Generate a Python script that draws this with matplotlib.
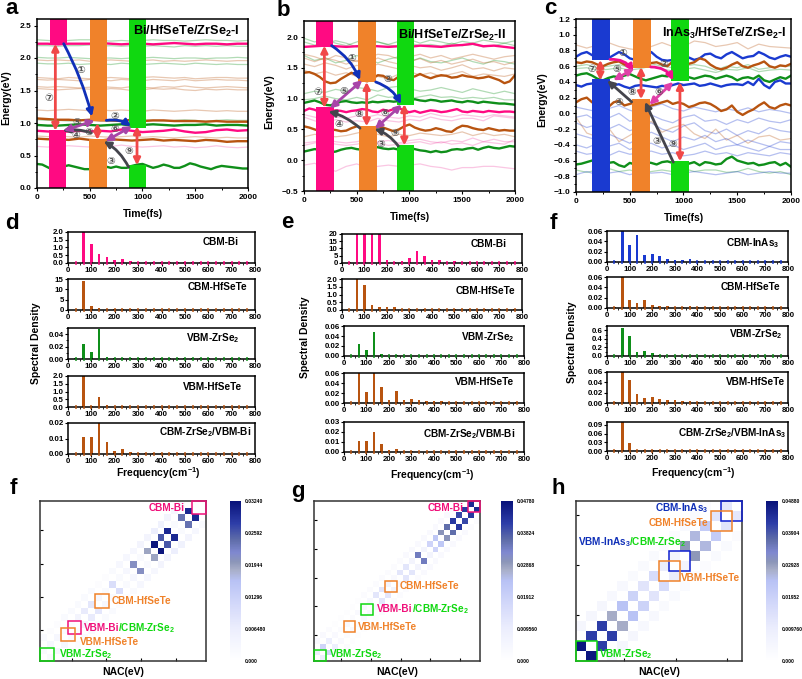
import numpy as np
import matplotlib
matplotlib.use("Agg")
import matplotlib.pyplot as plt
from matplotlib.colors import LinearSegmentedColormap
from matplotlib.patches import Rectangle

plt.rcParams['font.family'] = ['Liberation Sans', 'DejaVu Sans']
plt.rcParams['font.weight'] = 'bold'
plt.rcParams['mathtext.default'] = 'regular'
plt.rcParams['axes.linewidth'] = 1.1

W, H = 803, 679
PINK, BROWN, GREEN = '#FF0A82', '#B85410', '#0F8F1A'
BLUE = '#1A3AD0'
ORANGE = '#F0822A'
BGREEN = '#10D810'
RED = '#F04848'
DBLUE = '#1030B8'
GREY = '#44444C'
PURP = '#A845A8'

# ---------------- panel a series ----------------
a_pink_hi = [2.22, 2.22, 2.21, 2.22, 2.22, 2.22, 2.23, 2.22, 2.21, 2.22, 2.22, 2.21, 2.22, 2.23, 2.22, 2.21, 2.22, 2.22, 2.21, 2.22, 2.22]
a_brown_hi = [1.07, 1.06, 1.05, 1.05, 1.04, 1.05, 1.04, 1.04, 1.03, 1.05, 1.03, 1.04, 1.04, 1.03, 1.03, 1.03, 1.02, 1.03, 1.02, 1.02, 1.02]
a_green_mid = [.97, .96, .96, .97, .98, .97, .96, .97, .98, .96, .97, .98, .97, .96, .97, .97, .98, .96, .97, .97, .96]
a_pink_lo = [.88, .87, .86, .87, .88, .87, .88, .87, .90, .88, .86, .87, .88, .90, .87, .85, .86, .89, .90, .88, .89]
a_brown_lo = [.76, .75, .75, .74, .76, .74, .73, .75, .74, .73, .74, .75, .73, .74, .73, .72, .74, .73, .71, .72, .72]
a_green_lo = [.37, .36, .32, .28, .34, .33, .35, .33, .31, .29, .29, .32, .34, .33, .31, .33, .31, .31, .34, .36, .37, .34, .31, .33, .36, .34, .31, .31, .34, .38, .36, .33, .31, .29, .32, .34, .33, .32, .31, .30, .30]
a_thin_green = [
    [2.28, 2.27, 2.26, 2.27, 2.28, 2.28, 2.27, 2.26, 2.27, 2.26, 2.27, 2.28, 2.27, 2.27, 2.26, 2.27, 2.28, 2.27, 2.27, 2.26, 2.27],
    [2.19, 2.19, 2.18, 2.19, 2.19, 2.20, 2.18, 2.19, 2.18, 2.19, 2.18, 2.19, 2.18, 2.17, 2.19, 2.18, 2.19, 2.18, 2.19, 2.18, 2.18],
    [2.01, 2.00, 2.00, 2.01, 2.00, 1.99, 2.00, 2.00, 1.99, 2.00, 2.00, 2.01, 2.00, 1.99, 2.00, 2.00, 1.99, 2.00, 2.00, 2.01, 2.00],
    [1.92, 1.91, 1.91, 1.92, 1.90, 1.91, 1.91, 1.90, 1.92, 1.91, 1.90, 1.91, 1.92, 1.91, 1.90, 1.92, 1.91, 1.90, 1.91, 1.90, 1.90],
    [1.05, 1.04, 1.04, 1.03, 1.04, 1.04, 1.05, 1.03, 1.04, 1.04, 1.05, 1.04, 1.03, 1.04, 1.05, 1.04, 1.03, 1.04, 1.05, 1.04, 1.04],
]
a_thin_brown = [
    [1.97, 1.96, 1.97, 1.96, 1.97, 1.95, 1.96, 1.97, 1.96, 1.95, 1.96, 1.97, 1.95, 1.96, 1.95, 1.96, 1.97, 1.96, 1.95, 1.96, 1.96],
    [1.70, 1.69, 1.68, 1.70, 1.69, 1.68, 1.69, 1.70, 1.69, 1.68, 1.70, 1.71, 1.70, 1.69, 1.70, 1.68, 1.69, 1.70, 1.70, 1.69, 1.69],
    [1.67, 1.66, 1.67, 1.66, 1.65, 1.67, 1.66, 1.65, 1.67, 1.66, 1.65, 1.67, 1.66, 1.65, 1.67, 1.65, 1.66, 1.67, 1.66, 1.66, 1.65],
    [1.56, 1.55, 1.56, 1.55, 1.54, 1.55, 1.56, 1.55, 1.54, 1.56, 1.55, 1.54, 1.56, 1.55, 1.57, 1.55, 1.54, 1.55, 1.56, 1.55, 1.54],
    [1.53, 1.52, 1.51, 1.52, 1.53, 1.52, 1.51, 1.53, 1.52, 1.50, 1.51, 1.53, 1.52, 1.53, 1.51, 1.50, 1.52, 1.51, 1.52, 1.51, 1.51],
    [1.20, 1.19, 1.20, 1.21, 1.20, 1.19, 1.20, 1.19, 1.20, 1.19, 1.18, 1.20, 1.19, 1.18, 1.19, 1.20, 1.19, 1.18, 1.19, 1.18, 1.18],
    [.80, .79, .80, .79, .78, .80, .79, .78, .79, .80, .78, .79, .78, .77, .78, .79, .78, .77, .78, .77, .77],
]
a_thin_pink = [[.64, .63, .64, .65, .64, .63, .65, .64, .66, .64, .63, .64, .65, .63, .64, .62, .63, .65, .63, .62, .63]]

# ---------------- panel b series ----------------
b_pink_hi = [1.84, 1.85, 1.86, 1.85, 1.84, 1.85, 1.86, 1.85, 1.84, 1.85, 1.84, 1.86, 1.85, 1.84, 1.86, 1.87, 1.89, 1.85, 1.86, 1.84, 1.82]
b_brown_hi = [1.42, 1.43, 1.40, 1.35, 1.28, 1.25, 1.26, 1.32, 1.37, 1.42, 1.38, 1.30, 1.28, 1.33, 1.38, 1.37, 1.32, 1.30, 1.36, 1.38, 1.35, 1.36, 1.40, 1.36, 1.33, 1.36, 1.38, 1.37, 1.34, 1.35, 1.38, 1.36, 1.35, 1.33, 1.34, 1.36, 1.33, 1.30, 1.25, 1.28, 1.38]
b_green_mid = [.93, .95, .97, .94, .90, .89, .92, .95, .96, .94, .93, .94, .93, .95, .94, .95, .96, .95, .96, .98, .97, .99, .97, .96, .98, .97, .95, .96, .97, .95, .94, .96, .95, .93, .95, .94, .93, .92, .92, .91, .90]
b_pink_mid = [.80, .84, .82, .78, .76, .79, .81, .80, .78, .80, .81, .83, .82, .79, .78, .82, .80, .83, .85, .80, .78, .80, .77, .79, .81, .80, .78, .79, .81, .83, .79, .78, .80, .79, .78, .80, .79, .78, .79, .79, .78]
b_brown_lo = [.55, .53, .50, .47, .47, .50, .49, .47, .48, .52, .55, .53, .50, .52, .55, .53, .50, .47, .50, .55, .58, .53, .50, .48, .49, .52, .50, .47, .46, .52, .56, .55, .52, .50, .49, .52, .50, .48, .49, .48, .48]
b_green_lo = [.14, .16, .18, .17, .14, .13, .14, .17, .19, .20, .18, .17, .20, .22, .21, .19, .18, .19, .17, .18, .20, .18, .16, .15, .13, .15, .13, .14, .17, .18, .17, .19, .20, .17, .20, .22, .20, .19, .21, .23, .22]
b_thin_green = [
    [1.98, 1.92, 1.96, 1.90, 1.86, 1.92, 1.98, 1.92, 1.88, 1.93, 1.96, 1.90, 1.95, 1.92, 1.88, 1.93, 1.90, 1.95, 1.92, 1.90, 1.94],
    [1.92, 1.87, 1.90, 1.94, 1.90, 1.84, 1.88, 1.92, 1.87, 1.85, 1.90, 1.86, 1.88, 1.85, 1.90, 1.86, 1.88, 1.84, 1.86, 1.90, 1.86],
    [1.70, 1.62, 1.66, 1.58, 1.62, 1.70, 1.64, 1.58, 1.64, 1.68, 1.60, 1.66, 1.60, 1.58, 1.62, 1.66, 1.60, 1.56, 1.62, 1.60, 1.56],
    [1.08, 1.12, 1.10, 1.15, 1.12, 1.18, 1.16, 1.12, 1.18, 1.20, 1.16, 1.12, 1.14, 1.18, 1.14, 1.10, 1.16, 1.12, 1.08, 1.12, 1.08],
    [.98, 1.00, 1.04, 1.00, .98, 1.02, .98, 1.06, 1.02, 1.04, 1.00, 1.03, 1.06, 1.02, 1.03, 1.00, 1.02, 1.00, 1.02, .98, .98],
]
b_thin_brown = [
    [1.72, 1.68, 1.62, 1.70, 1.66, 1.60, 1.66, 1.72, 1.70, 1.64, 1.68, 1.72, 1.66, 1.70, 1.64, 1.68, 1.72, 1.68, 1.64, 1.68, 1.70],
    [1.66, 1.60, 1.66, 1.62, 1.56, 1.62, 1.58, 1.66, 1.60, 1.56, 1.60, 1.65, 1.58, 1.62, 1.56, 1.60, 1.64, 1.58, 1.60, 1.55, 1.60],
    [1.56, 1.52, 1.58, 1.54, 1.48, 1.54, 1.50, 1.56, 1.52, 1.48, 1.54, 1.50, 1.52, 1.46, 1.50, 1.55, 1.48, 1.50, 1.45, 1.50, 1.48],
    [1.46, 1.40, 1.44, 1.38, 1.42, 1.36, 1.30, 1.36, 1.32, 1.40, 1.44, 1.38, 1.42, 1.36, 1.40, 1.44, 1.36, 1.40, 1.38, 1.36, 1.40],
    [.38, .42, .40, .38, .40, .44, .48, .42, .38, .42, .40, .44, .42, .40, .42, .46, .40, .44, .40, .42, .38],
]
b_thin_pink = [
    [.74, .70, .66, .70, .68, .72, .70, .74, .70, .68, .72, .70, .76, .72, .70, .74, .72, .70, .74, .72, .70],
    [.70, .64, .60, .66, .62, .64, .62, .68, .64, .62, .66, .64, .70, .66, .64, .68, .68, .64, .72, .70, .68],
    [.28, .30, .34, .30, .28, .30, .34, .30, .32, .28, .32, .34, .30, .28, .32, .30, .36, .30, .34, .30, .30],
    [.24, .28, .30, .26, .24, .26, .30, .28, .24, .26, .28, .30, .26, .30, .26, .28, .24, .30, .28, .26, .34],
    [-.08, -.05, -.12, -.18, -.10, -.06, -.12, -.10, -.08, -.10, -.08, -.06, -.10, -.12, -.16, -.12, -.12, -.10, -.10, -.12, -.14],
]

# ---------------- panel c series ----------------
c_blue_hi = [.72, .76, .78, .74, .72, .70, .70, .74, .78, .75, .70, .68, .67, .72, .78, .72, .68, .67, .68, .70, .73, .71, .68, .70, .75, .76, .72, .70, .75, .78, .74, .70, .72, .73, .78, .75, .71, .69, .72, .74, .72]
c_brown_hi = [.65, .64, .66, .65, .62, .60, .63, .65, .66, .62, .60, .60, .63, .62, .64, .65, .62, .60, .66, .68, .66, .63, .65, .70, .68, .62, .58, .56, .58, .62, .65, .60, .58, .61, .63, .66, .60, .58, .61, .60, .63]
c_green_mid = [.48, .50, .51, .48, .44, .42, .45, .47, .46, .48, .50, .47, .44, .42, .44, .46, .48, .47, .50, .46, .44, .46, .44, .46, .48, .47, .44, .46, .48, .46, .42, .45, .46, .44, .48, .42, .40, .43, .46, .44, .48]
c_blue_lo = [.36, .34, .37, .38, .36, .37, .35, .36, .37, .34, .32, .35, .36, .35, .34, .33, .35, .34, .36, .38, .36, .37, .38, .35, .36, .38, .36, .34, .36, .37, .37, .36, .40, .36, .44, .36, .32, .40, .42, .38, .38]
c_brown_lo = [.14, .18, .20, .14, .12, .10, .08, .14, .16, .10, .12, .14, .12, .08, .10, .12, .14, .16, .12, .14, .12, .08, .10, .13, .14, .12, .08, .03, .05, .10, .02, -.02, .02, .05, .10, .14, .08, .06, .10, .12, .10]
c_green_lo = [-.65, -.64, -.62, -.60, -.62, -.61, -.63, -.62, -.66, -.68, -.63, -.65, -.64, -.62, -.63, -.65, -.62, -.61, -.63, -.62, -.66, -.64, -.62, -.66, -.62, -.63, -.65, -.64, -.58, -.55, -.60, -.62, -.64, -.63, -.66, -.65, -.63, -.62, -.66, -.63, -.68]
c_thin_green = [
    [.60, .62, .58, .60, .62, .58, .60, .63, .60, .58, .60, .62, .60, .55, .60, .58, .62, .56, .58, .60, .60],
    [.57, .58, .55, .56, .58, .55, .57, .60, .56, .54, .56, .58, .55, .52, .56, .55, .58, .53, .55, .56, .55],
    [-.72, -.75, -.72, -.70, -.74, -.72, -.76, -.74, -.72, -.74, -.70, -.74, -.72, -.72, -.75, -.74, -.70, -.74, -.76, -.74, -.78],
]
c_thin_brown = [
    [.87, .83, .87, .90, .85, .82, .80, .85, .90, .85, .85, .92, .90, .85, .87, .90, .82, .88, .85, .84, .83],
    [-.05, -.25, -.30, -.18, -.36, -.28, -.20, -.10, -.24, -.18, -.14, -.26, -.32, -.20, -.34, -.28, -.38, -.30, -.28, -.34, -.32],
]
c_thin_blue = [
    [.08, .05, .02, .06, .10, .04, .00, .08, .12, .06, .03, .08, .05, .02, .06, .03, .07, .02, .05, .03, .00],
    [-.05, -.02, -.10, -.06, .00, -.10, -.06, -.02, -.08, -.12, -.05, -.02, -.10, -.08, -.14, -.08, -.12, -.06, -.10, -.12, -.08],
    [-.12, -.18, -.14, -.20, -.14, -.22, -.18, -.12, -.20, -.24, -.16, -.12, -.22, -.26, -.20, -.28, -.22, -.26, -.18, -.22, -.24],
    [-.26, -.30, -.34, -.26, -.32, -.38, -.30, -.24, -.30, -.36, -.30, -.34, -.28, -.36, -.32, -.40, -.34, -.38, -.42, -.36, -.38],
    [-.40, -.44, -.38, -.42, -.38, -.46, -.40, -.38, -.44, -.40, -.46, -.42, -.38, -.46, -.42, -.40, -.44, -.48, -.42, -.46, -.46],
    [-.48, -.52, -.50, -.54, -.48, -.52, -.50, -.48, -.52, -.50, -.54, -.52, -.48, -.52, -.50, -.54, -.50, -.52, -.54, -.50, -.52],
    [-.78, -.74, -.78, -.76, -.74, -.78, -.74, -.76, -.75, -.78, -.76, -.74, -.76, -.78, -.76, -.74, -.78, -.76, -.74, -.76, -.76],
]

# ---------------- spectra ----------------
freq = [33, 67, 100, 133, 167, 200, 233, 267, 300, 333, 367, 400, 433, 467, 500, 533, 567, 600, 633, 667, 700, 733, 767]
d_bi = [.03, 2.0, 1.25, .55, .38, .2, .27, .1, .09, .09, .08, .06, .06, .05, .05, .05, .05, .05, .05, .05, .04, .04, .04]
d_hf = [.2, 13.8, 2.0, .8, .4, .3, .5, .3, .2, .2, .2, .2, .2, .2, .2, .2, .2, .2, .2, .2, .2, .2, .2]
d_zr = [.001, .024, .012, .048, .004, .001, .002, .001, .001, .001, .001, .001, .001, .001, .001, .001, .001, .001, .001, .001, .001, .001, .001]
d_vhf = [.03, 2.0, .05, .65, .12, .03, .08, .03, .03, .03, .03, .03, .03, .02, .02, .02, .02, .02, .02, .02, .02, .02, .02]
d_mix = [.0003, .011, .011, .02, .008, .002, .003, .001, .0006, .0005, .0004, .0004, .0004, .0004, .0003, .0003, .0003, .0003, .0003, .0003, .0003, .0003, .0003]
e_bi = [.5, 20, 20, 20, 20, 2.2, .8, 1.3, 3.5, 8.3, 4.8, 2.2, 1.8, .7, 1.2, .7, .7, .6, .7, .7, .6, .6, .6]
e_hf = [.03, 2.0, 1.6, .35, .2, .18, .2, .07, .05, .05, .05, .05, .05, .04, .04, .04, .04, .04, .04, .04, .04, .04, .04]
e_zr = [.001, .024, .012, .048, .004, .001, .002, .001, .001, .001, .001, .001, .001, .001, .001, .001, .001, .001, .001, .001, .001, .001, .001]
e_vhf = [.001, .06, .023, .06, .032, .006, .024, .007, .009, .006, .005, .004, .004, .003, .003, .003, .002, .002, .002, .002, .002, .002, .002]
e_mix = [.0003, .011, .011, .02, .008, .002, .003, .001, .0006, .0005, .0004, .0004, .0004, .0004, .0003, .0003, .0003, .0003, .0003, .0003, .0003, .0003, .0003]
f_in = [.001, .06, .033, .052, .014, .016, .012, .006, .004, .004, .005, .002, .002, .002, .002, .002, .002, .001, .001, .001, .001, .001, .001]
f_hf = [.001, .06, .016, .009, .015, .005, .003, .003, .002, .002, .003, .001, .001, .001, .001, .001, .001, .001, .001, .001, .001, .001, .001]
f_zr = [.005, .65, .47, .1, .11, .07, .02, .01, .01, .01, .01, .008, .008, .006, .006, .006, .006, .005, .005, .005, .005, .005, .005]
f_vhf = [.001, .06, .045, .017, .01, .012, .008, .005, .005, .004, .003, .002, .002, .002, .002, .002, .001, .001, .001, .001, .001, .001, .001]
f_mix = [.002, .10, .028, .003, .002, .002, .002, .002, .002, .002, .002, .002, .002, .002, .002, .002, .002, .002, .002, .002, .002, .002, .002]

# ---------------- NAC off-diagonal bands ----------------
nac_f_k1 = [.002, .003, .003, .002, .001, .004, .007, .008, .003, .002, .010, .002, .003, .021, .002, .019, .032, .026, .030, .002, .024, .030, .0003]
nac_f_k3 = [.002, .001, .001, .002, .002, .002, .002, .002, .001, .001, .002, .003, .003, .003, .004, .004, .006, .005, .004, .003, .002]
nac_g_k1 = [.009, .018, .009, .003, .002, .003, .002, .003, .003, .004, .012, .012, .006, .003, .012, .012, .006, .034, .006, .018, .022, .030, .036, .042, .040, .042, .044]
nac_g_k3 = [.003, .003, .002, .001, .001, .001, .001, .001, .002, .002, .002, .002, .002, .002, .002, .003, .003, .003, .003, .003, .003, .003, .003, .002, .002]
nac_h_k1 = [.048, .042, .042, .028, .024, .019, .013, .016, .010, .006, .030, .026, .021, .013, .012]
nac_h_k3 = [.005, .005, .005, .004, .004, .003, .003, .003, .002, .002, .003, .003, .002]
cb_f = ['0.000', '0.006480', '0.01296', '0.01944', '0.02592', '0.03240']
cb_g = ['0.000', '0.009560', '0.01912', '0.02868', '0.03824', '0.04780']
cb_h = ['0.000', '0.009760', '0.01952', '0.02928', '0.03904', '0.04880']

nac_cmap = LinearSegmentedColormap.from_list('nac', [
    (0, '#FFFFFF'), (.2, '#ECEEFD'), (.35, '#D4D9FA'), (.5, '#B8C2F5'), (.57, '#A8AEC8'),
    (.62, '#8C96B8'), (.68, '#7F88D0'), (.76, '#5E6CA8'), (.86, '#2E3EA8'), (1, '#08127A')])

fig = plt.figure(figsize=(W / 100, H / 100), dpi=100)


def axpx(l, t, r, b):
    return fig.add_axes([l / W, 1 - b / H, (r - l) / W, (b - t) / H])


def txt(x, y, s, size=7.5, color='black', ha='center', va='center', rot=0):
    return fig.text(x / W, 1 - y / H, s, fontsize=size, color=color, ha=ha, va=va,
                    rotation=rot, fontweight='bold')


def series(ax, vals, color, lw, alpha=1.0):
    t = np.linspace(0, 2000, len(vals))
    ax.plot(t, vals, color=color, lw=lw, alpha=alpha, zorder=2, solid_joinstyle='round')


def arrow(ax, start, end, color, rad=0.0, both=False, lw=2.0):
    style = '<|-|>' if both else '-|>'
    ax.annotate('', xy=end, xytext=start, zorder=6,
                arrowprops=dict(arrowstyle=style, color=color, lw=lw, mutation_scale=10,
                                shrinkA=0, shrinkB=0,
                                connectionstyle=f'arc3,rad={rad}'))


def energy_panel(box, ylim, yticks, thick, thin, blocks, minor):
    ax = axpx(*box)
    for vals, c in thin:
        series(ax, vals, c, .9, .32)
    for vals, c in thick:
        series(ax, vals, c, 1.7)
    for (t0, t1, e0, e1, c) in blocks:
        ax.add_patch(Rectangle((t0, e0), t1 - t0, e1 - e0, fc=c, ec='none', zorder=4))
    ax.set_xlim(0, 2000)
    ax.set_ylim(*ylim)
    ax.set_xticks([0, 500, 1000, 1500, 2000])
    ax.set_xticks([250, 750, 1250, 1750], minor=True)
    ax.set_yticks(yticks)
    ax.set_yticks(minor, minor=True)
    ax.tick_params(labelsize=6, length=2.5, width=.8, pad=1.5)
    ax.tick_params(which='minor', length=1.5, width=.7)
    for s in ax.spines.values():
        s.set_zorder(7)
    return ax


NUMC = '#555555'
NUMS = 7.5

# ---------- panel a ----------
ax = energy_panel((37, 19, 248, 188), (0, 2.6), [0, .5, 1, 1.5, 2, 2.5],
                  [(a_pink_hi, PINK), (a_brown_hi, BROWN), (a_green_mid, GREEN), (a_pink_lo, PINK), (a_brown_lo, BROWN), (a_green_lo, GREEN)],
                  [(v, GREEN) for v in a_thin_green] + [(v, BROWN) for v in a_thin_brown] + [(v, '#F050A8') for v in a_thin_pink],
                  [(120, 284, 2.22, 2.6, PINK), (110, 275, 0, .9, PINK), (500, 663, 1.03, 2.6, ORANGE), (493, 660, 0, .75, ORANGE),
                   (869, 1033, .93, 2.6, BGREEN), (869, 1033, 0, .35, BGREEN)], [.25, .75, 1.25, 1.75, 2.25])
arrow(ax, (253, 2.22), (521, 1.10), DBLUE, -.06)
arrow(ax, (657, 1.04), (891, .95), DBLUE, -.2)
arrow(ax, (869, .32), (632, .72), GREY, .15)
arrow(ax, (512, .85), (243, .88), GREY, .12)
arrow(ax, (253, .88), (547, 1.04), PURP, 0, True)
arrow(ax, (648, .72), (900, .95), PURP, 0, True)
arrow(ax, (174, 2.22), (174, .88), RED, 0, True)
arrow(ax, (572, 1.0), (572, .74), RED, 0, True)
arrow(ax, (948, .95), (948, .35), RED, 0, True)
for s, x, y in [('①', 81, 70), ('②', 115, 116), ('③', 111, 161), ('④', 76, 135), ('⑤', 77, 122), ('⑧', 89, 132), ('⑥', 115, 129), ('⑦', 49, 98), ('⑨', 129, 151)]:
    txt(x, y, s, NUMS, NUMC)

# ---------- panel b ----------
ax = energy_panel((304, 21, 515, 191), (-.5, 2.26), [-.5, 0, .5, 1, 1.5, 2],
                  [(b_pink_hi, PINK), (b_brown_hi, BROWN), (b_green_mid, GREEN), (b_pink_mid, PINK), (b_brown_lo, BROWN), (b_green_lo, GREEN)],
                  [(v, GREEN) for v in b_thin_green] + [(v, BROWN) for v in b_thin_brown] + [(v, '#F050A8') for v in b_thin_pink],
                  [(110, 277, 1.84, 2.26, PINK), (117, 281, -.5, .87, PINK), (515, 680, 1.27, 2.26, ORANGE), (521, 692, -.5, .55, ORANGE),
                   (881, 1046, .9, 2.26, BGREEN), (878, 1043, -.5, .25, BGREEN)], [-.25, .25, .75, 1.25, 1.75])
arrow(ax, (262, 1.86), (531, 1.30), DBLUE, -.15)
arrow(ax, (680, 1.27), (919, .91), DBLUE, -.2)
arrow(ax, (894, .23), (667, .51), GREY, .15)
arrow(ax, (531, .52), (231, .79), GREY, .12)
arrow(ax, (246, .84), (553, 1.30), PURP, 0, True)
arrow(ax, (673, .51), (926, .90), PURP, 0, True)
arrow(ax, (193, 1.86), (193, .85), RED, 0, True)
arrow(ax, (594, 1.27), (594, .55), RED, 0, True)
arrow(ax, (951, .91), (951, .24), RED, 0, True)
for s, x, y in [('①', 352, 58), ('②', 388, 79), ('③', 381, 144), ('④', 339, 124), ('⑤', 344, 91), ('⑥', 385, 113), ('⑦', 318, 92), ('⑧', 359, 114), ('⑨', 395, 133)]:
    txt(x, y, s, NUMS, NUMC)

# ---------- panel c ----------
ax = energy_panel((576, 19, 791, 192), (-1, 1.2), [-1, -.8, -.6, -.4, -.2, 0, .2, .4, .6, .8, 1, 1.2],
                  [(c_blue_hi, BLUE), (c_brown_hi, BROWN), (c_green_mid, GREEN), (c_blue_lo, BLUE), (c_brown_lo, BROWN), (c_green_lo, GREEN)],
                  [(v, GREEN) for v in c_thin_green] + [(v, BROWN) for v in c_thin_brown] + [(v, BLUE) for v in c_thin_blue],
                  [(149, 316, .68, 1.2, BLUE), (149, 316, -1, .44, BLUE), (527, 695, .58, 1.2, ORANGE), (518, 688, -1, .18, ORANGE),
                   (884, 1051, .41, 1.2, BGREEN), (884, 1051, -1, -.6, BGREEN)], [-.9, -.7, -.5, -.3, -.1, .1, .3, .5, .7, .9, 1.1])
HP = '#F0108E'
arrow(ax, (316, .686), (533, .53), HP, -.3)
arrow(ax, (695, .59), (905, .42), HP, -.3)
arrow(ax, (905, -.62), (642, .146), GREY, 0)
arrow(ax, (518, .146), (291, .42), GREY, 0)
arrow(ax, (347, .42), (540, .57), '#E040A8', 0, True)
arrow(ax, (682, .11), (905, .40), '#E040A8', 0, True)
arrow(ax, (226, .68), (226, .42), RED, 0, True)
arrow(ax, (605, .59), (605, .18), RED, 0, True)
arrow(ax, (967, .40), (967, -.61), RED, 0, True)
for s, x, y in [('①', 623, 53), ('②', 664, 64), ('③', 657, 141), ('④', 619, 102), ('⑤', 617, 69), ('⑥', 659, 92), ('⑦', 592, 69), ('⑧', 632, 92), ('⑨', 673, 144)]:
    txt(x, y, s, NUMS, NUMC)

txt(186, 31, 'Bi/HfSeTe/ZrSe$_2$-I', 9.2)
txt(452, 35, 'Bi/HfSeTe/ZrSe$_2$-II', 9)
txt(724, 33, 'InAs$_3$/HfSeTe/ZrSe$_2$-I', 9)
txt(6, 98, 'Energy(eV)', 7.5, rot=90)
txt(269, 102, 'Energy(eV)', 7.5, rot=90)
txt(542, 100, 'Energy(eV)', 7.5, rot=90)
txt(143, 214, 'Time(fs)', 7.5)
txt(410, 217, 'Time(fs)', 7.5)
txt(684, 218, 'Time(fs)', 7.5)


# ---------- spectra ----------
def spec(box, vals, color, ylim, yticks, fmt, label, lxy, minor=None):
    ax = axpx(*box)
    ax.bar(freq, vals, width=12, color=color, zorder=2, clip_on=True)
    # the small residual peaks sit on the baseline as short coloured marks
    ax.plot(freq, [0] * len(freq), ls='none', marker='|', ms=2.5, mew=1.3, color=color, zorder=4, clip_on=False, alpha=.8)
    ax.set_xlim(0, 800)
    ax.set_ylim(*ylim)
    ax.set_xticks(range(0, 801, 100))
    ax.set_xticks(range(50, 800, 100), minor=True)
    ax.set_yticks(yticks)
    ax.set_yticklabels([fmt % v for v in yticks])
    if minor:
        ax.set_yticks(minor, minor=True)
    ax.tick_params(labelsize=5.7, length=2, width=.8, pad=1)
    ax.tick_params(which='minor', length=1.2, width=.6)
    txt(lxy[0], lxy[1], label, 7.2)


MIX_BI = 'CBM-ZrSe$_2$/VBM-Bi'
ZR = 'VBM-ZrSe$_2$'
spec((68, 232, 255, 263), d_bi, PINK, (0, 2), [0, .5, 1, 1.5, 2], '%.1f', 'CBM-Bi', (221, 242))
spec((68, 279, 255, 310), d_hf, BROWN, (0, 15), [0, 5, 10, 15], '%d', 'CBM-HfSeTe', (217, 287))
spec((68, 328, 255, 359), d_zr, GREEN, (0, .05), [0, .02, .04], '%.2f', ZR, (213, 338), [.01, .03, .05])
spec((68, 376, 255, 407), d_vhf, BROWN, (0, 2), [0, .5, 1, 1.5, 2], '%.1f', 'VBM-HfSeTe', (213, 387))
spec((68, 423, 255, 454), d_mix, BROWN, (0, .02), [0, .01, .02], '%.2f', MIX_BI, (205, 432))

spec((342, 234, 522, 263), e_bi, PINK, (0, 20), [0, 5, 10, 15, 20], '%d', 'CBM-Bi', (489, 244))
spec((342, 279, 522, 310), e_hf, BROWN, (0, 2), [0, .5, 1, 1.5, 2], '%.1f', 'CBM-HfSeTe', (485, 291))
spec((344, 326, 524, 356), e_zr, GREEN, (0, .06), [0, .02, .04, .06], '%.2f', ZR, (488, 337))
spec((344, 373, 524, 403), e_vhf, BROWN, (0, .06), [0, .02, .04, .06], '%.2f', 'VBM-HfSeTe', (485, 382))
spec((344, 422, 524, 452), e_mix, BROWN, (0, .03), [0, .01, .02, .03], '%.2f', MIX_BI, (469, 434))

spec((607, 231, 788, 262), f_in, BLUE, (0, .06), [0, .02, .04, .06], '%.2f', 'CBM-InAs$_3$', (753, 243))
spec((607, 277, 788, 308), f_hf, BROWN, (0, .06), [0, .02, .04, .06], '%.2f', 'CBM-HfSeTe', (750, 287))
spec((607, 326, 788, 356), f_zr, GREEN, (0, .7), [0, .2, .4, .6], '%.1f', ZR, (756, 334), [.1, .3, .5, .7])
spec((607, 372, 788, 403), f_vhf, BROWN, (0, .06), [0, .02, .04, .06], '%.2f', 'VBM-HfSeTe', (756, 382))
spec((607, 422, 788, 451), f_mix, BROWN, (0, .1), [0, .03, .06, .09], '%.2f', 'CBM-ZrSe$_2$/VBM-InAs$_3$', (732, 433))

txt(36, 343, 'Spectral Density', 7.5, rot=90)
txt(305, 337, 'Spectral Density', 7.5, rot=90)
txt(572, 342, 'Spectral Density', 7.5, rot=90)
txt(158, 473, 'Frequency(cm$^{-1}$)', 7.5)
txt(432, 475, 'Frequency(cm$^{-1}$)', 7.5)
txt(693, 473, 'Frequency(cm$^{-1}$)', 7.5)


# ---------- NAC maps ----------
def nac(box, cbox, k1, k3, vmax, cblabels, ticks, boxes):
    n = len(k1) + 1
    M = np.diag(k1, 1) + np.diag(k3, 3)
    M = M + M.T
    ax = axpx(*box)
    im = ax.imshow(M, origin='lower', cmap=nac_cmap, vmin=0, vmax=vmax,
                   interpolation='nearest', aspect='auto', extent=(0, n, 0, n))
    ax.set_xticks(ticks)
    ax.set_yticks(ticks)
    ax.set_xticklabels([])
    ax.set_yticklabels([])
    ax.tick_params(direction='in', length=2.5, width=.8)
    for s in ax.spines.values():
        s.set_color('#333333')
    for c0, c1, col in boxes:
        ax.add_patch(Rectangle((c0, c0), c1 - c0, c1 - c0, fc='none', ec=col, lw=1.1, clip_on=False, zorder=5))
    cax = axpx(*cbox)
    cb = fig.colorbar(im, cax=cax)
    cb.outline.set_visible(False)
    cb.set_ticks(np.linspace(0, vmax, 6))
    cb.set_ticklabels(cblabels)
    cb.ax.tick_params(length=0, labelsize=3.6, pad=3)


nac((40, 501, 206, 661), (230, 501, 241, 661), nac_f_k1, nac_f_k3, .0324, cb_f, [4.6, 9.6, 14.6, 19.6],
    [(22, 24, '#F0107A'), (8, 10, ORANGE), (4, 6, '#F0107A'), (3, 5, ORANGE), (0, 2, BGREEN)])
nac((314, 501, 480, 661), (501, 501, 513, 661), nac_g_k1, nac_g_k3, .0478, cb_g, [4.6, 9.6, 14.6, 19.6, 24.6],
    [(26, 28, '#F0107A'), (12, 14, ORANGE), (8, 10, BGREEN), (5, 7, ORANGE), (0, 2, BGREEN)])
nac((576, 501, 742, 661), (766, 501, 778, 661), nac_h_k1, nac_h_k3, .0488, cb_h, [4.6, 9.6, 14.6],
    [(14, 16, '#1020D0'), (13, 15, ORANGE), (9, 11, '#1020D0'), (8, 10, ORANGE), (0, 2, BGREEN)])

MAG = '#F0107A'
HS = 7.2
txt(185, 508, 'CBM-Bi', HS, MAG, ha='right')
txt(112, 601, 'CBM-HfSeTe', HS, ORANGE, ha='left')
txt(84, 628, 'VBM-Bi', HS, MAG, ha='left')
txt(118, 628, '/CBM-ZrSe$_2$', HS, BGREEN, ha='left')
txt(80, 642, 'VBM-HfSeTe', HS, ORANGE, ha='left')
txt(59, 654, 'VBM-ZrSe$_2$', HS, BGREEN, ha='left')

txt(265 + 597 / 3, 508, 'CBM-Bi', HS, MAG, ha='right')
txt(265 + 405 / 3, 586, 'CBM-HfSeTe', HS, ORANGE, ha='left')
txt(265 + 335 / 3, 609, 'VBM-Bi', HS, MAG, ha='left')
txt(265 + 441 / 3, 609, '/CBM-ZrSe$_2$', HS, BGREEN, ha='left')
txt(265 + 278 / 3, 627, 'VBM-HfSeTe', HS, ORANGE, ha='left')
txt(265 + 192 / 3, 654, 'VBM-ZrSe$_2$', HS, BGREEN, ha='left')

txt(530 + 375 / 3, 508, 'CBM-InAs$_3$', HS, DBLUE, ha='left')
txt(530 + 357 / 3, 523, 'CBM-HfSeTe', HS, ORANGE, ha='left')
txt(530 + 144 / 3, 542, 'VBM-InAs$_3$', HS, DBLUE, ha='left')
txt(530 + 298 / 3, 542, '/CBM-ZrSe$_2$', HS, BGREEN, ha='left')
txt(530 + 452 / 3, 578, 'VBM-HfSeTe', HS, ORANGE, ha='left')
txt(530 + 208 / 3, 654, 'VBM-ZrSe$_2$', HS, BGREEN, ha='left')

txt(123, 672, 'NAC(eV)', 7.5)
txt(397, 672, 'NAC(eV)', 7.5)
txt(659, 672, 'NAC(eV)', 7.5)

for s, x, y in [('a', 12, 9), ('b', 283, 10), ('c', 550, 9), ('d', 12, 224), ('e', 287, 223), ('f', 553, 224),
                ('f', 13, 488), ('g', 298, 491), ('h', 558, 488)]:
    txt(x, y, s, 16)

fig.savefig('out.png', dpi=100)
